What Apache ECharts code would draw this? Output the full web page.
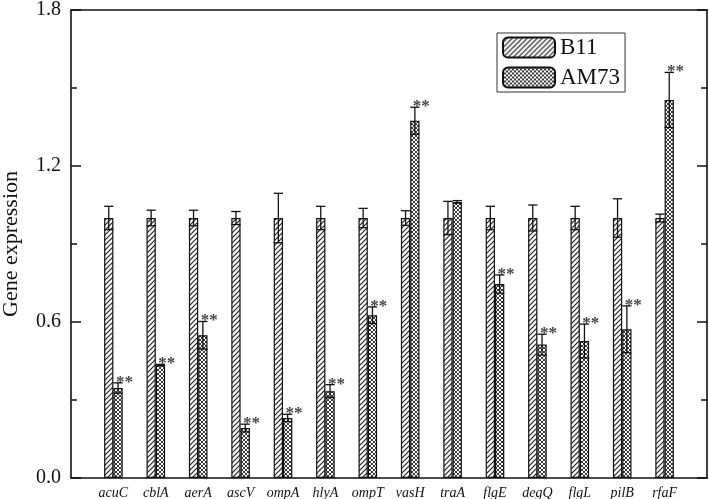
<!DOCTYPE html>
<html>
<head>
<meta charset="utf-8">
<script src="https://cdn.jsdelivr.net/npm/echarts@6/dist/echarts.min.js"></script>
<style>
  html, body { margin: 0; padding: 0; background: #fff; }
  #main { width: 709px; height: 499px; }
</style>
</head>
<body>
<div id="main"></div>
<script>
// gene names along the x axis
var genes = ['acuC', 'cblA', 'aerA', 'ascV', 'ompA', 'hlyA', 'ompT', 'vasH', 'traA', 'flgE', 'degQ', 'flgL', 'pilB', 'rfaF'];
// relative expression, strain B11 (control)
var b11Values = [1.0, 1.0, 1.0, 1.0, 1.0, 1.0, 1.0, 1.0, 1.0, 1.0, 1.0, 1.0, 1.0, 1.0];
var b11Errors = [0.045, 0.03, 0.03, 0.025, 0.095, 0.045, 0.037, 0.028, 0.064, 0.045, 0.05, 0.045, 0.074, 0.015];
// relative expression, strain AM73
var am73Values = [0.346, 0.434, 0.549, 0.192, 0.231, 0.334, 0.626, 1.374, 1.062, 0.746, 0.513, 0.527, 0.572, 1.454];
var am73Errors = [0.02, 0.003, 0.053, 0.015, 0.014, 0.025, 0.032, 0.052, 0.005, 0.035, 0.04, 0.065, 0.09, 0.106];
// ** marks (significant difference)
var am73Signif = [true, true, true, true, true, true, true, true, false, true, true, true, true, true];
var yTicks = [0, 0.6, 1.2, 1.8];

var FONT = '"Liberation Serif", "Times New Roman", serif';
var BAR_W = 9.3;

function hatchCanvas(cross) {
    var s = cross ? 4 : 5;
    var cv = document.createElement('canvas');
    cv.width = s; cv.height = s;
    var ctx = cv.getContext('2d');
    ctx.fillStyle = '#fff';
    ctx.fillRect(0, 0, s, s);
    ctx.strokeStyle = '#222';
    ctx.lineWidth = cross ? 0.9 : 1.2;
    ctx.beginPath();
    ctx.moveTo(0, s); ctx.lineTo(s, 0);
    ctx.moveTo(-1, 1); ctx.lineTo(1, -1);
    ctx.moveTo(s - 1, s + 1); ctx.lineTo(s + 1, s - 1);
    if (cross) {
        ctx.moveTo(0, 0); ctx.lineTo(s, s);
        ctx.moveTo(-1, s - 1); ctx.lineTo(1, s + 1);
        ctx.moveTo(s - 1, -1); ctx.lineTo(s + 1, 1);
    }
    ctx.stroke();
    return cv;
}

var axisCats = [''].concat(genes).concat(['']);

function barData(vals) {
    var out = ['-'];
    vals.forEach(function (v) { out.push(v); });
    out.push('-');
    return out;
}

function errData(vals, errs) {
    return vals.map(function (v, i) { return [i + 1, v, errs[i]]; });
}

function errRender(side) {
    return function (params, api) {
        var idx = api.value(0), val = api.value(1), err = api.value(2);
        var top = api.coord([idx, val + err]);
        var bot = api.coord([idx, val - err]);
        var x = top[0] + side * BAR_W / 2;
        var hw = BAR_W / 2;
        var st = { stroke: '#111', lineWidth: 1.3 };
        return {
            type: 'group',
            children: [
                { type: 'line', shape: { x1: x, y1: top[1], x2: x, y2: bot[1] }, style: st },
                { type: 'line', shape: { x1: x - hw, y1: top[1], x2: x + hw, y2: top[1] }, style: st },
                { type: 'line', shape: { x1: x - hw, y1: bot[1], x2: x + hw, y2: bot[1] }, style: st }
            ]
        };
    };
}

var starData = [];
am73Values.forEach(function (v, i) {
    if (am73Signif[i]) starData.push([i + 1, v + am73Errors[i]]);
});

var chart = echarts.init(document.getElementById('main'));
var lineStyle = { color: '#111', width: 1.6 };

var option = {
    animation: false,
    backgroundColor: '#fff',
    grid: { left: 71, right: 2, top: 10, bottom: 21, outerBoundsMode: 'none', containLabel: false },
    legend: {
        orient: 'vertical',
        left: 497,
        top: 33,
        padding: [3, 5],
        itemGap: 7,
        itemWidth: 52,
        itemHeight: 20,
        borderColor: '#333',
        borderWidth: 1,
        textStyle: { fontFamily: FONT, fontSize: 23, color: '#111' },
        data: ['B11', 'AM73']
    },
    xAxis: [{
        type: 'category',
        data: axisCats,
        boundaryGap: false,
        axisLine: { onZero: false, lineStyle: lineStyle },
        axisTick: { show: false },
        axisLabel: {
            interval: 0,
            margin: 8,
            fontFamily: FONT,
            fontStyle: 'italic',
            fontSize: 14,
            color: '#111'
        },
        splitLine: { show: false }
    }, {
        type: 'category',
        data: axisCats,
        boundaryGap: false,
        position: 'top',
        axisLine: { show: true, onZero: false, lineStyle: lineStyle },
        axisTick: { show: false },
        axisLabel: { show: false },
        splitLine: { show: false }
    }],
    yAxis: [{
        type: 'value',
        min: yTicks[0],
        max: yTicks[yTicks.length - 1],
        interval: 0.6,
        name: 'Gene expression',
        nameLocation: 'middle',
        nameGap: 49,
        nameTextStyle: { fontFamily: FONT, fontSize: 22, color: '#111' },
        axisLine: { show: true, onZero: false, lineStyle: lineStyle },
        axisTick: { show: true, inside: true, length: 10, lineStyle: { color: '#111', width: 1.5 } },
        minorTick: { show: true, splitNumber: 2, length: 6, lineStyle: { color: '#111', width: 1.5 } },
        axisLabel: {
            margin: 10,
            fontFamily: FONT,
            fontSize: 20,
            color: '#111',
            formatter: function (v) { return v.toFixed(1); }
        },
        splitLine: { show: false }
    }, {
        type: 'value',
        position: 'right',
        min: yTicks[0],
        max: yTicks[yTicks.length - 1],
        interval: 0.6,
        axisLine: { show: true, onZero: false, lineStyle: lineStyle },
        axisTick: { show: true, inside: true, length: 10, lineStyle: { color: '#111', width: 1.5 } },
        minorTick: { show: true, splitNumber: 2, length: 6, lineStyle: { color: '#111', width: 1.5 } },
        axisLabel: { show: false },
        splitLine: { show: false }
    }],
    series: [
        {
            name: 'B11',
            type: 'bar',
            barWidth: BAR_W,
            barGap: '0%',
            data: barData(b11Values),
            itemStyle: {
                color: { image: hatchCanvas(false), repetition: 'repeat' },
                borderColor: '#111',
                borderWidth: 1.2
            }
        },
        {
            name: 'AM73',
            type: 'bar',
            barWidth: BAR_W,
            barGap: '0%',
            data: barData(am73Values),
            itemStyle: {
                color: { image: hatchCanvas(true), repetition: 'repeat' },
                borderColor: '#111',
                borderWidth: 1.2
            }
        },
        {
            type: 'custom',
            renderItem: errRender(-1),
            data: errData(b11Values, b11Errors),
            encode: { x: 0, y: 1 },
            z: 5
        },
        {
            type: 'custom',
            renderItem: errRender(1),
            data: errData(am73Values, am73Errors),
            encode: { x: 0, y: 1 },
            z: 5
        },
        {
            type: 'scatter',
            symbolSize: 0,
            data: starData,
            silent: true,
            label: {
                show: true,
                position: 'top',
                distance: 0,
                offset: [11, 8],
                formatter: '**',
                fontFamily: FONT,
                fontSize: 17,
                fontWeight: 'bold',
                color: '#111'
            },
            z: 6
        }
    ]
};

chart.setOption(option);
</script>
</body>
</html>
